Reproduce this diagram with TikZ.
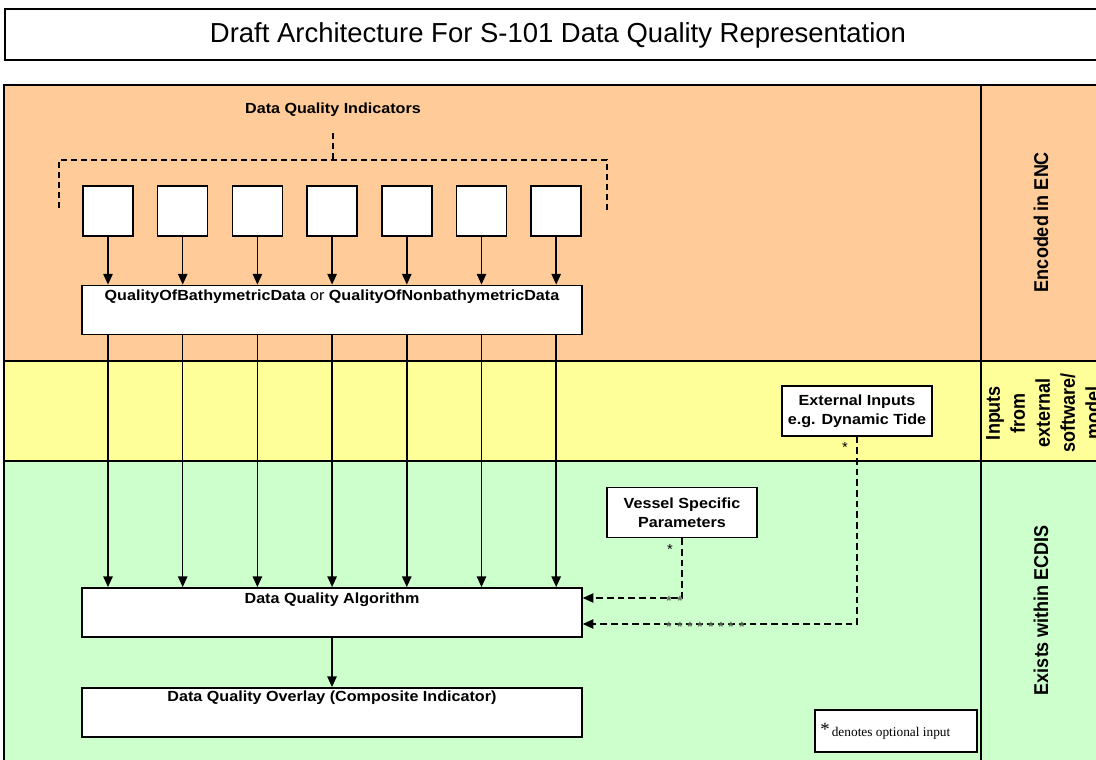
\documentclass[tikz,border=0pt]{standalone}
\usepackage{fontspec}
\setmainfont{Liberation Sans}
\newfontfamily\seriffont{Liberation Serif}
\newfontfamily\widefont[FakeStretch=1.1]{Liberation Sans}
\newfontfamily\narrowfont[FakeStretch=0.9]{Liberation Sans}
\usetikzlibrary{arrows.meta}
\definecolor{encband}{HTML}{FFCC99}
\definecolor{inband}{HTML}{FFFF99}
\definecolor{ecdisband}{HTML}{CCFFCC}
\definecolor{faintstar}{HTML}{5A665A}
\tikzset{
  band/.style={draw=black, line width=1.5pt},
  whitebox/.style={draw=black, fill=white, line width=1.1pt, inner sep=0pt},
  indbox/.style={whitebox, minimum width=37.5pt, minimum height=37.5pt},
  widebox/.style={whitebox, minimum width=375pt, minimum height=37pt},
  smallbox/.style={whitebox, minimum width=112.5pt, minimum height=37.5pt, align=center,
    font=\widefont\bfseries\fontsize{11}{14.5}\selectfont},
  boldlbl/.style={font=\widefont\bfseries\fontsize{11}{12}\selectfont, inner sep=0pt},
  sidelbl/.style={font=\narrowfont\bfseries\fontsize{15}{18.75}\selectfont, rotate=90, align=center, inner sep=0pt},
  arr/.style={line width=1.1pt, -{Triangle[width=7pt,length=8pt]}},
  darr/.style={line width=1pt, dash pattern=on 5pt off 3pt, -{Triangle[width=7pt,length=8pt]}},
  bracket/.style={line width=1pt, dash pattern=on 4.5pt off 3pt},
  star/.style={font=\fontsize{11}{11}\selectfont, inner sep=0pt},
  fstar/.style={font=\bfseries\fontsize{10}{10}\selectfont, text=faintstar, inner sep=0pt},
}
\begin{document}
\begin{tikzpicture}[x=0.75pt, y=-0.75pt]
\useasboundingbox (0,0) rectangle (1096,760);
\clip (0,0) rectangle (1096,760);
% background
\fill[white] (0,0) rectangle (1096,760);
% title
\node[draw=black, line width=1.5pt, minimum width=1200*0.75pt, minimum height=51*0.75pt, anchor=west, inner sep=0pt] (titlebox) at (4,34.5) {};
\node[font=\fontsize{20.6}{24}\selectfont, inner sep=0pt] (title) at (558,35) {Draft Architecture For S-101 Data Quality Representation};
% bands
\fill[encband] (4,85) rectangle (1200,361);
\fill[inband] (4,361) rectangle (1200,461);
\fill[ecdisband] (4,461) rectangle (1200,800);
\draw[band] (4,800) -- (4,85) -- (1200,85);
\draw[band] (4,361) -- (1200,361);
\draw[band] (4,461) -- (1200,461);
\draw[band] (981,85) -- (981,800);
% side labels
\node[sidelbl] (encl) at (1041,222) {Encoded in ENC};
\node[sidelbl] (inl) at (1043,413) {Inputs\\from\\external\\software/\\model};
\node[sidelbl] (exl) at (1041,610) {Exists within ECDIS};
% Data quality indicators
\node[boldlbl] (dqi) at (333,110) {Data Quality Indicators};
\coordinate (bl) at (59,208);
\coordinate (blt) at (59,160);
\coordinate (brt) at (607,160);
\coordinate (br) at (607,210);
\coordinate (bct) at (333,133);
\coordinate (bcb) at (333,160);
\draw[bracket] (bl) -- (blt) -- (brt) -- (br);
\draw[bracket] (bct) -- (bcb);
\foreach \i in {1,...,7} {
  \node[indbox] (ind\i) at ({108+75*(\i-1)-0.3*(\i-1)},211) {};
}
% main boxes
\node[widebox] (qob) at (332,310) {};
\node[boldlbl] (qobt) at (332,297) {QualityOfBathymetricData \textmd{or} QualityOfNonbathymetricData};
\node[widebox] (alg) at (332,612.5) {};
\node[boldlbl] (algt) at (332,600) {Data Quality Algorithm};
\node[widebox] (ovl) at (332,712.5) {};
\node[boldlbl] (ovlt) at (332,698) {Data Quality Overlay (Composite Indicator)};
% arrows
\foreach \i in {1,...,7} {
  \draw[arr] (ind\i.south) -- (ind\i.south |- qob.north);
  \draw[arr] (ind\i.south |- qob.south) -- (ind\i.south |- alg.north);
}
\draw[arr] (alg.south) -- (ovl.north);
% external inputs
\node[smallbox] (ext) at (857,411) {External Inputs\\e.g. Dynamic Tide};
\node[smallbox] (ves) at (682,512.5) {Vessel Specific\\Parameters};
\node[star] (extstar) at (845,447) {*};
\node[star] (vesstar) at (670,549) {*};
\coordinate (yv) at (0,598);
\coordinate (ye) at (0,624);
\draw[darr] (ves.south) |- (alg.east |- yv);
\draw[darr] (ext.south) |- (alg.east |- ye);
\foreach \x in {669,680} { \node[fstar] at (\x,601) {*}; }
\foreach \x in {669,680,690,700,711,721,731,742} { \node[fstar] at (\x,627) {*}; }
% legend
\node[draw=black, fill=white, line width=1.2pt, minimum width=121.5pt, minimum height=31.5pt, inner sep=0pt] (leg) at (896,731) {};
\node[font=\seriffont\fontsize{10}{11}\selectfont, inner sep=0pt, anchor=west] (legt) at (820,731) {\raisebox{0.8pt}{\fontsize{14}{14}\selectfont*}\,denotes optional input};
\end{tikzpicture}
\end{document}
